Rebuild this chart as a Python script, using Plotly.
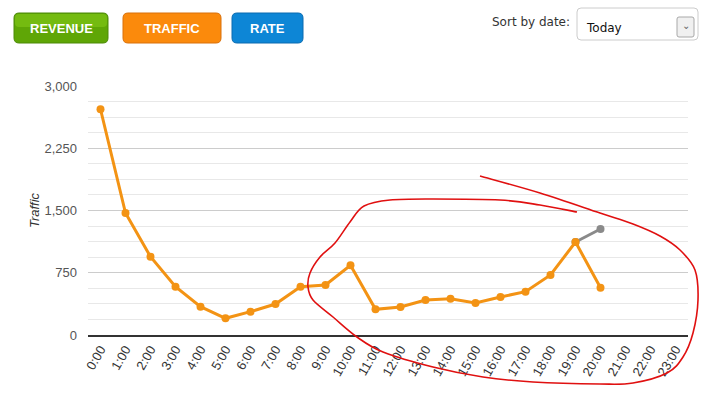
import plotly.graph_objects as go

hours = [f"{h}:00" for h in range(24)]
traffic = [2720, 1470, 943, 582, 341, 201, 281, 373, 582, 602, 840, 309, 337, 422, 438, 386, 458, 522, 723, 1120, 570]
prev_hours = ["19:00", "20:00"]
prev_values = [1120, 1277]
y_ticks = [0, 750, 1500, 2250, 3000]
y_tick_labels = ["0", "750", "1,500", "2,250", "3,000"]

W, H = 708, 394
ML, MR, MT, MB = 88, 20, 86, 59
PW, PH = W - ML - MR, H - MT - MB


def px(x):
    return (x - ML) / PW


def py(y):
    return (H - MB - y) / PH


fig = go.Figure()
fig.add_trace(go.Scatter(x=prev_hours, y=prev_values, mode="lines+markers",
                         line=dict(color="#8a8a8a", width=3),
                         marker=dict(color="#8a8a8a", size=8), cliponaxis=False,
                         hoverinfo="skip"))
fig.add_trace(go.Scatter(x=hours[:len(traffic)], y=traffic, mode="lines+markers",
                         line=dict(color="#f39314", width=3),
                         marker=dict(color="#f39314", size=8), cliponaxis=False))

shapes = []


def rrect(x0, y0, x1, y1, r, fill, line):
    p = (f"M {px(x0 + r)} {py(y0)} L {px(x1 - r)} {py(y0)} Q {px(x1)} {py(y0)} {px(x1)} {py(y0 + r)} "
         f"L {px(x1)} {py(y1 - r)} Q {px(x1)} {py(y1)} {px(x1 - r)} {py(y1)} "
         f"L {px(x0 + r)} {py(y1)} Q {px(x0)} {py(y1)} {px(x0)} {py(y1 - r)} "
         f"L {px(x0)} {py(y0 + r)} Q {px(x0)} {py(y0)} {px(x0 + r)} {py(y0)} Z")
    shapes.append(dict(type="path", path=p, xref="paper", yref="paper",
                       fillcolor=fill, line=dict(color=line, width=1), layer="above"))


# buttons
rrect(14, 13, 108, 43, 5, "#5fa606", "#4c8a06")
rrect(15, 14, 107, 27, 4, "#74bb10", "rgba(0,0,0,0)")
rrect(123, 13, 221, 43, 5, "#fb8a0c", "#d9700a")
rrect(232, 13, 303, 43, 5, "#0d86d6", "#0a6bb0")
# dropdown
rrect(577, 8, 698, 40, 4, "#ffffff", "#cccccc")
rrect(677, 17, 694, 37, 2, "#f0f0f0", "#a8a8a8")

# red hand-drawn annotation (smoothed with Catmull-Rom)
pts = [(480, 176), (540, 193), (600, 213), (633, 224), (660, 236), (680, 250), (695, 270), (698, 300),
       (693, 333), (683, 357), (667, 373), (633, 383), (600, 384), (533, 382), (483, 377),
       (433, 367), (383, 352), (357, 337), (333, 317), (313, 300), (308, 287), (310, 273),
       (320, 257), (335, 243), (350, 222), (364, 206), (390, 200), (433, 199), (500, 200),
       (540, 205), (577, 212)]
seg = [f"M {px(pts[0][0])} {py(pts[0][1])}"]
for i in range(len(pts) - 1):
    p0 = pts[i - 1] if i > 0 else pts[i]
    p1, p2 = pts[i], pts[i + 1]
    p3 = pts[i + 2] if i + 2 < len(pts) else pts[i + 1]
    c1 = (p1[0] + (p2[0] - p0[0]) / 6, p1[1] + (p2[1] - p0[1]) / 6)
    c2 = (p2[0] - (p3[0] - p1[0]) / 6, p2[1] - (p3[1] - p1[1]) / 6)
    seg.append(f"C {px(c1[0])} {py(c1[1])} {px(c2[0])} {py(c2[1])} {px(p2[0])} {py(p2[1])}")
shapes.append(dict(type="path", path=" ".join(seg), xref="paper", yref="paper",
                   line=dict(color="#e01010", width=1.6), layer="above"))


def label(text, x, y, xa, family, size, color):
    return dict(text=text, x=px(x), y=py(y), xref="paper", yref="paper", showarrow=False,
                xanchor=xa, yanchor="middle",
                font=dict(family=family, size=size, color=color))


annotations = [
    label("<b>REVENUE</b>", 61, 28, "center", "Liberation Sans", 13, "white"),
    label("<b>TRAFFIC</b>", 172, 28, "center", "Liberation Sans", 13, "white"),
    label("<b>RATE</b>", 267.5, 28, "center", "Liberation Sans", 13, "white"),
    label("Sort by date:", 572, 22, "right", "DejaVu Sans", 12, "#333333"),
    label("Today", 584, 28, "left", "DejaVu Sans", 12, "#111111"),
    label("⌄", 685.5, 25, "center", "DejaVu Sans", 10, "#666666"),
]

fig.update_layout(
    width=W, height=H, margin=dict(l=ML, r=MR, t=MT, b=MB, autoexpand=False),
    paper_bgcolor="white", plot_bgcolor="white", showlegend=False,
    shapes=shapes, annotations=annotations,
    font=dict(family="Liberation Sans", size=13, color="#444444"),
    xaxis=dict(type="category", categoryorder="array", categoryarray=hours, tickvals=hours,
               range=[-0.5, 23.5], tickangle=-60, showgrid=False, showline=True,
               linecolor="#333333", linewidth=1.5, ticks="", zeroline=False, automargin=False,
               tickfont=dict(size=13, color="#333333")),
    yaxis=dict(range=[0, 3000], tickvals=y_ticks, ticktext=y_tick_labels,
               showgrid=True, gridcolor="#cccccc", gridwidth=1, zeroline=False,
               showline=False, ticks="", ticklabelstandoff=10, automargin=False,
               minor=dict(dtick=187.5, tick0=0, showgrid=True, gridcolor="#e8e8e8", gridwidth=1),
               title=dict(text="<i>Traffic</i>", standoff=1, font=dict(size=13, color="#333333")),
               tickfont=dict(size=13, color="#555555")),
)

fig.write_html("out.html", config={"displayModeBar": False},
               post_script="document.body.style.margin='0';")
